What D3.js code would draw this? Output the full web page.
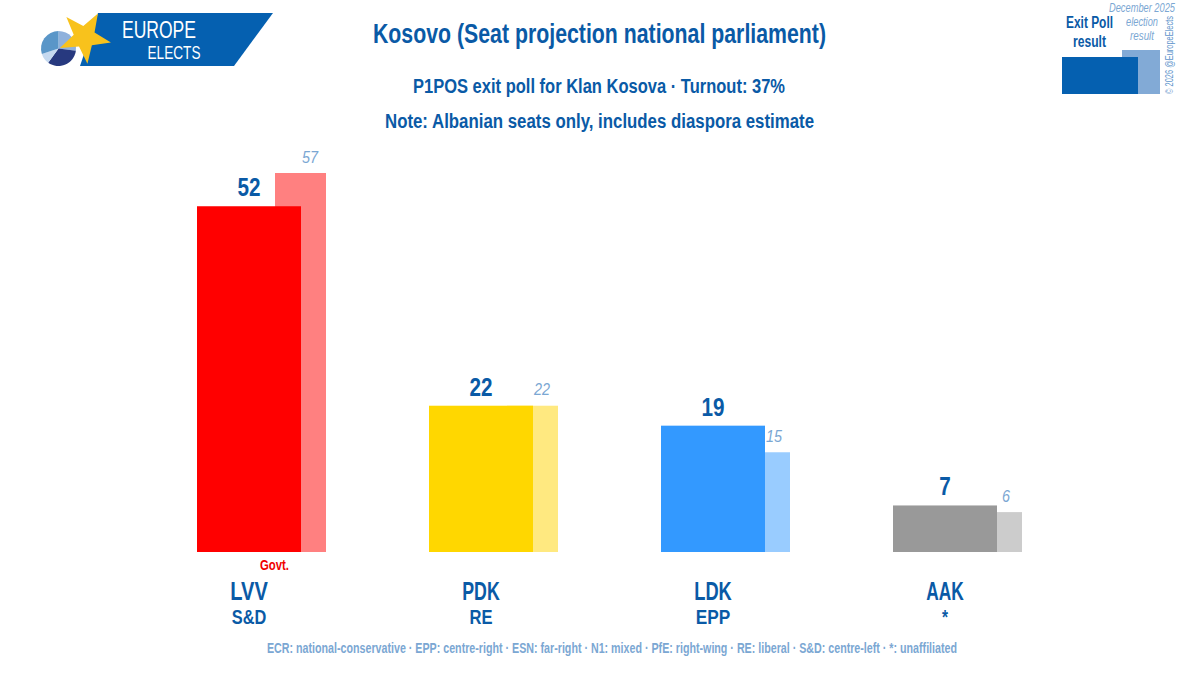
<!DOCTYPE html>
<html>
<head>
<meta charset="utf-8">
<script src="https://cdn.jsdelivr.net/npm/d3@7"></script>
<style>
 html, body { margin: 0; padding: 0; background: #fff; }
 text { font-family: "Liberation Sans Narrow", "Liberation Sans", sans-serif; }
</style>
</head>
<body>
<script>
// Kosovo exit poll seat projection
var parties = ["LVV", "PDK", "LDK", "AAK"];
var groups = ["S&D", "RE", "EPP", "*"];
var seats = [52, 22, 19, 7];
var lastSeats = [57, 22, 15, 6];
var colors = ["#ff0000", "#ffd700", "#3399ff", "#999999"];
var lastColors = ["#ff8080", "#ffe980", "#99ccff", "#cccccc"];
var pieValues = [27, 33, 10, 30];
var pieColors = ["#8fb1dc", "#27397f", "#c5d9f0", "#5a96c8"];

var width = 1200, height = 691;
var blue = "#0a5aa6", pale = "#7ba7d3";

var svg = d3.select("body").append("svg")
 .attr("width", width)
 .attr("height", height)
 .style("display", "block");

var x = d3.scaleBand().domain(parties).range([133, 1061]);
var y = d3.scaleLinear().domain([0, 57]).range([552, 173]);
var barWidth = 104, lastWidth = 51, lastOffset = 26;

// text helper, textLength keeps the run widths of the original font
function label(str, cx, cy, size, color, len, italic) {
 var t = svg.append("text")
  .attr("x", cx)
  .attr("y", cy)
  .attr("text-anchor", "middle")
  .attr("dominant-baseline", "central")
  .attr("font-size", size)
  .attr("font-weight", "bold")
  .attr("fill", color)
  .text(str);
 if (len) t.attr("textLength", len).attr("lengthAdjust", "spacingAndGlyphs");
 if (italic) t.attr("font-style", "italic");
 return t;
}

// logo
var logo = svg.append("g");
logo.append("polygon").attr("points", "98,13 273,13 234,66 80,66").attr("fill", "#0560b0");
var pie = d3.pie().sort(null)(pieValues);
var arc = d3.arc().innerRadius(0).outerRadius(17.5);
logo.selectAll("path.slice").data(pie).enter().append("path")
 .attr("class", "slice")
 .attr("transform", "translate(58.5,48.5)")
 .attr("d", arc)
 .attr("fill", function(d, i) { return pieColors[i]; });
var star = d3.range(10).map(function(i) {
 var r = i % 2 ? 11 : 27;
 var a = -Math.PI / 2 + 0.52 + i * Math.PI / 5;
 return [84.5 + r * Math.cos(a), 37 + r * Math.sin(a)].join(",");
}).join(" ");
logo.append("polygon").attr("points", star).attr("fill", "#f8c21c");
label("EUROPE", 159, 29, 24, "#fff", 74).attr("font-weight", "normal");
label("ELECTS", 174, 52, 19, "#fff", 53).attr("font-weight", "normal");

// titles
label("Kosovo (Seat projection national parliament)", 599.5, 34, 27, blue, 453);
label("P1POS exit poll for Klan Kosova · Turnout: 37%", 599, 86, 20, blue, 372);
label("Note: Albanian seats only, includes diaspora estimate", 599.5, 121, 20, blue, 429);

// last election bars go behind the exit poll bars
svg.selectAll("rect.last").data(parties).enter().append("rect")
 .attr("class", "last")
 .attr("x", function(d) { return x(d) + x.bandwidth() / 2 + lastOffset; })
 .attr("y", function(d, i) { return y(lastSeats[i]); })
 .attr("width", lastWidth)
 .attr("height", function(d, i) { return y(0) - y(lastSeats[i]); })
 .attr("fill", function(d, i) { return lastColors[i]; });

svg.selectAll("rect.now").data(parties).enter().append("rect")
 .attr("class", "now")
 .attr("x", function(d) { return x(d) + x.bandwidth() / 2 - barWidth / 2; })
 .attr("y", function(d, i) { return y(seats[i]); })
 .attr("width", barWidth)
 .attr("height", function(d, i) { return y(0) - y(seats[i]); })
 .attr("fill", function(d, i) { return colors[i]; });

parties.forEach(function(p, i) {
 var cx = x(p) + x.bandwidth() / 2;
 label(seats[i], cx, y(seats[i]) - 19, 25, blue, String(seats[i]).length * 11.5);
 label(lastSeats[i], cx + 61, y(lastSeats[i]) - 16, 17, pale, String(lastSeats[i]).length * 8, true)
  .attr("font-weight", "normal");
 label(p, cx, 591, 25, blue, p.length * 12.5);
 label(groups[i], cx, 616, 21, blue, groups[i] == "*" ? 6 : groups[i].length * 11.5);
});

label("Govt.", x("LVV") + x.bandwidth() / 2 + 25.5, 565, 14, "#f00000", 29);

label("ECR: national-conservative · EPP: centre-right · ESN: far-right · N1: mixed · PfE: right-wing · RE: liberal · S&D: centre-left · *: unaffiliated", 612, 648, 14, pale, 690);

// legend top right
svg.append("rect").attr("x", 1122).attr("y", 50).attr("width", 38).attr("height", 44).attr("fill", "#82aad6");
svg.append("rect").attr("x", 1062).attr("y", 57).attr("width", 76).attr("height", 37).attr("fill", "#0560b0");
label("Exit Poll", 1089.5, 22, 16, blue, 47);
label("result", 1089.5, 41, 16, blue, 33);
label("December 2025", 1142, 8, 12, pale, 66, true).attr("font-weight", "normal");
label("election", 1142, 22, 12, pale, 32, true).attr("font-weight", "normal");
label("result", 1142, 36, 12, pale, 24, true).attr("font-weight", "normal");
label("© 2026 @EuropeElects", 0, 0, 10, "#5f95cc", 78)
 .attr("font-weight", "normal")
 .attr("transform", "translate(1169,55) rotate(-90)");
</script>
</body>
</html>
